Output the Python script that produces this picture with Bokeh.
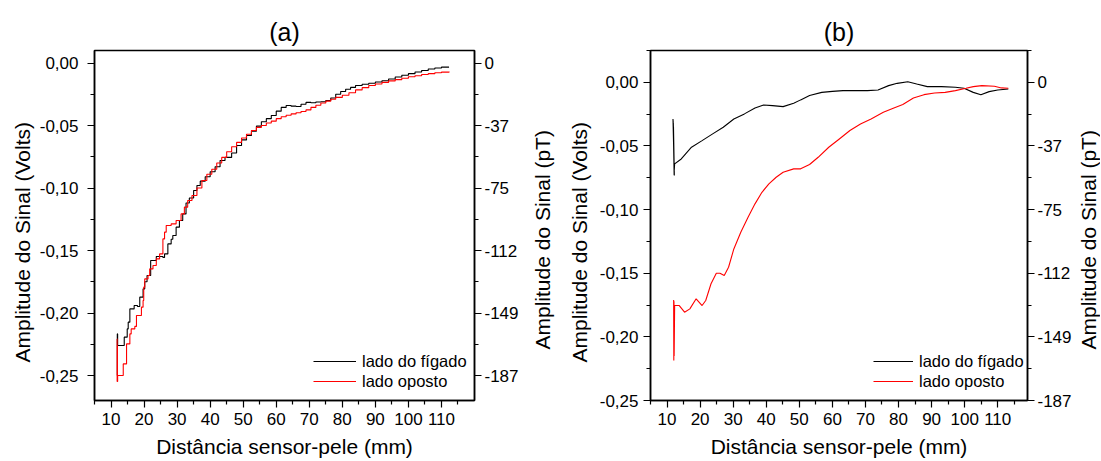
from bokeh.plotting import figure
from bokeh.layouts import row
from bokeh.models import LinearAxis, FixedTicker, Legend, LegendItem, Range1d, Title
from bokeh.embed import file_html
from bokeh.resources import INLINE

# ---------------- data ----------------
# panel (a) - staircase curves
a_liver_x = [11.85, 11.9, 12.0, 14.0, 14.9, 15.2, 15.7, 17.0, 18.0, 18.7, 19.7, 20.2, 20.9, 22.0, 23.7, 25.7,
             26.2, 27.2, 28.2, 28.7, 29.7, 30.7, 31.7, 32.7, 33.7, 35.0, 36.0, 37.0, 38.5, 40.0, 41.5, 43.0,
             44.5, 46.5, 48.0, 49.5, 51.0, 52.5, 54.0, 55.5, 57.0, 58.5, 60.0, 61.5, 63.0, 64.5, 66.0, 67.5,
             69.0, 70.5, 72.0, 73.5, 75.0, 76.5, 78.0, 79.5, 81.0, 82.5, 84.0, 86.0, 88.0, 90.0, 92.0, 94.0,
             96.0, 98.0, 100.0, 102.0, 104.0, 106.0, 108.0, 110.0, 112.3]
a_liver_v = [-0.250, -0.2167, -0.226, -0.2193, -0.2127, -0.2073, -0.1967, -0.194, -0.1948, -0.1873, -0.1807,
             -0.175, -0.170, -0.158, -0.1548, -0.1555, -0.1527, -0.1447, -0.141, -0.138, -0.1313, -0.126,
             -0.1207, -0.112, -0.108, -0.102, -0.098, -0.0945, -0.091, -0.087, -0.083, -0.078, -0.0755,
             -0.072, -0.066, -0.0615, -0.058, -0.0545, -0.0505, -0.047, -0.0445, -0.042, -0.0385, -0.0355,
             -0.034, -0.0345, -0.0348, -0.033, -0.0315, -0.0318, -0.0312, -0.031, -0.030, -0.028, -0.025,
             -0.0228, -0.021, -0.0195, -0.018, -0.017, -0.0162, -0.0152, -0.0142, -0.0128, -0.0112, -0.0098,
             -0.0085, -0.0072, -0.006, -0.0048, -0.004, -0.0033, -0.0033]

a_opp_x = [11.8, 11.85, 11.9, 11.95, 12.0, 13.7, 14.7, 15.7, 16.1, 17.2, 17.7, 19.2, 19.7, 19.9, 20.2, 21.2,
           21.7, 22.7, 23.7, 24.7, 25.7, 26.2, 26.7, 28.2, 29.7, 31.2, 32.2, 33.2, 34.5, 36.0, 37.5, 39.0,
           40.5, 42.0, 43.5, 45.0, 46.5, 48.0, 49.5, 51.0, 52.5, 54.0, 55.5, 57.0, 58.5, 60.0, 61.5, 63.0,
           64.5, 66.0, 67.5, 69.0, 70.5, 72.0, 73.5, 75.0, 76.5, 78.0, 80.0, 82.0, 84.0, 86.0, 88.0, 90.0,
           92.0, 94.0, 96.0, 98.0, 100.0, 102.0, 104.0, 106.0, 108.0, 110.0, 112.3]
a_opp_v = [-0.2207, -0.2547, -0.226, -0.2547, -0.250, -0.2407, -0.2247, -0.2167, -0.2127, -0.2107, -0.202,
           -0.1953, -0.190, -0.1793, -0.1727, -0.170, -0.1647, -0.162, -0.1567, -0.1527, -0.1407, -0.1353,
           -0.130, -0.1287, -0.126, -0.1207, -0.1153, -0.110, -0.106, -0.100, -0.094, -0.089, -0.085,
           -0.080, -0.0755, -0.071, -0.067, -0.0635, -0.060, -0.057, -0.054, -0.0515, -0.050, -0.048,
           -0.0465, -0.0445, -0.043, -0.0418, -0.0407, -0.0398, -0.0388, -0.0375, -0.0355, -0.0338, -0.032,
           -0.0305, -0.029, -0.0275, -0.0258, -0.0238, -0.0215, -0.0197, -0.018, -0.0168, -0.0155, -0.0143,
           -0.0133, -0.0122, -0.011, -0.0102, -0.0092, -0.0085, -0.0078, -0.0073, -0.0068]

# panel (b) - smooth curves
b_liver_x = [11.8, 12.2, 11.85, 12.15, 11.9, 12.2, 11.95, 12.15, 12.3, 14.3, 17.4, 20.6, 23.8, 27.0, 30.2,
             33.4, 36.6, 39.2, 41.9, 45.1, 48.3, 50.4, 53.1, 56.8, 60.0, 63.2, 67.4, 70.6, 73.8, 77.0, 79.6,
             82.8, 85.5, 88.7, 93.0, 97.2, 99.8, 102.6, 104.9, 107.4, 110.0, 113.2]
b_liver_v = [-0.0288, -0.0733, -0.030, -0.0728, -0.032, -0.0725, -0.035, -0.070, -0.0641, -0.0602, -0.051,
             -0.0458, -0.0405, -0.0353, -0.0288, -0.0248, -0.0201, -0.0178, -0.0183, -0.0191, -0.0165,
             -0.0138, -0.0104, -0.0079, -0.0071, -0.0065, -0.0065, -0.0065, -0.006, -0.0026, -0.0008,
             0.0005, -0.0013, -0.0034, -0.0034, -0.0039, -0.0047, -0.0079, -0.0097, -0.0073, -0.006, -0.0052]

b_opp_x = [12.0, 12.05, 12.1, 12.15, 12.3, 13.7, 15.3, 16.9, 18.8, 20.6, 21.7, 23.3, 24.9, 26.0, 27.3, 28.6,
           30.2, 32.3, 34.5, 36.6, 38.7, 40.8, 43.0, 45.1, 48.3, 50.4, 53.1, 55.7, 58.9, 62.1, 65.3, 68.5,
           71.7, 75.4, 78.6, 81.3, 84.5, 87.7, 90.9, 94.1, 97.2, 100.4, 102.6, 105.2, 109.0, 111.1, 113.2]
b_opp_v = [-0.171, -0.2186, -0.172, -0.215, -0.1754, -0.1754, -0.1806, -0.178, -0.1701, -0.1754, -0.1714,
           -0.1583, -0.150, -0.150, -0.1518, -0.1453, -0.1309, -0.1178, -0.106, -0.0955, -0.0864, -0.0798,
           -0.0746, -0.0707, -0.068, -0.068, -0.0646, -0.0589, -0.051, -0.0445, -0.0379, -0.0327, -0.0288,
           -0.0236, -0.0201, -0.0175, -0.0123, -0.0097, -0.0084, -0.0079, -0.0065, -0.0047, -0.0034,
           -0.0026, -0.0031, -0.0044, -0.0047]

series_names = ["lado do fígado", "lado oposto"]
titles = ["(a)", "(b)"]

x_ticks = [10, 20, 30, 40, 50, 60, 70, 80, 90, 100, 110]
x_minor = [5, 15, 25, 35, 45, 55, 65, 75, 85, 95, 105, 115]
y_ticks = [0.0, -0.05, -0.10, -0.15, -0.20, -0.25]
y_minor = [0.025, -0.025, -0.075, -0.125, -0.175, -0.225, -0.275]
y_labels_volts = ["0,00", "-0,05", "-0,10", "-0,15", "-0,20", "-0,25"]
y_labels_pt = ["0", "-37", "-75", "-112", "-149", "-187"]

x_label = "Distância sensor-pele (mm)"
y_label_left = "Amplitude do Sinal (Volts)"
y_label_right = "Amplitude do Sinal (pT)"

FONT = "Liberation Sans"
H = 461
MB_TOP, MB_BOTTOM = 50, 61


def vtitle(text, offset, standoff):
    # vertical axis title reading bottom-to-top
    return Title(text=text, align="left", offset=offset, standoff=standoff,
                 text_font=FONT, text_font_size="21px", text_font_style="normal",
                 text_color="black")


def style_axis(ax):
    ax.axis_line_color = "black"
    ax.axis_line_width = 1.5
    ax.major_tick_line_color = "black"
    ax.minor_tick_line_color = "black"
    ax.major_tick_line_width = 1.2
    ax.minor_tick_line_width = 1.2
    ax.major_tick_in = 0
    ax.major_tick_out = 7
    ax.minor_tick_in = 0
    ax.minor_tick_out = 4
    ax.major_label_text_font = FONT
    ax.major_label_text_font_size = "17px"
    ax.major_label_text_color = "black"
    ax.axis_label_text_font = FONT
    ax.axis_label_text_font_size = "21px"
    ax.axis_label_text_font_style = "normal"
    ax.axis_label_text_color = "black"


def make_panel(title, xr, yr, width, mb_left, mb_right, lx, ly, xo, yo, step, legend_x, glyph_w,
               left_std, left_label_std):
    p = figure(width=width, height=H, output_backend="svg", toolbar_location=None,
               x_range=Range1d(*xr), y_range=Range1d(*yr),
               min_border_left=mb_left, min_border_right=mb_right,
               min_border_top=MB_TOP, min_border_bottom=MB_BOTTOM)
    p.title.text = title
    p.title.align = "center"
    p.title.text_font = FONT
    p.title.text_font_size = "25px"
    p.title.text_font_style = "normal"
    p.title.text_color = "black"
    p.title.standoff = 10
    p.xgrid.visible = False
    p.ygrid.visible = False
    p.outline_line_color = "black"
    p.outline_line_width = 1.5
    p.outline_line_alpha = 1.0

    xa = p.xaxis[0]
    xa.ticker = FixedTicker(ticks=x_ticks, minor_ticks=x_minor)
    xa.axis_label = x_label
    style_axis(xa)
    xa.major_label_standoff = 5
    xa.axis_label_standoff = 7

    ya = p.yaxis[0]
    ya.ticker = FixedTicker(ticks=y_ticks, minor_ticks=y_minor)
    ya.major_label_overrides = {t: s for t, s in zip(y_ticks, y_labels_volts)}
    style_axis(ya)
    ya.major_label_standoff = left_std
    p.add_layout(vtitle(y_label_left, 38, left_label_std), "left")

    yr_ax = LinearAxis(ticker=FixedTicker(ticks=y_ticks, minor_ticks=y_minor))
    yr_ax.major_label_overrides = {t: s for t, s in zip(y_ticks, y_labels_pt)}
    style_axis(yr_ax)
    yr_ax.major_label_standoff = 3
    p.add_layout(yr_ax, "right")

    if step:
        r1 = p.step(lx, ly, mode="after", line_color="black", line_width=1.1)
        r2 = p.step(xo, yo, mode="after", line_color="#ff0000", line_width=1.1)
    else:
        r1 = p.line(lx, ly, line_color="black", line_width=1.1)
        r2 = p.line(xo, yo, line_color="#ff0000", line_width=1.1)

    leg = Legend(items=[LegendItem(label=series_names[0], renderers=[r1]),
                        LegendItem(label=series_names[1], renderers=[r2])],
                 location=(legend_x, 9))
    leg.border_line_alpha = 0
    leg.background_fill_alpha = 0
    leg.padding = 0
    leg.margin = 0
    leg.spacing = 0
    leg.glyph_width = glyph_w
    leg.glyph_height = 20
    leg.label_height = 20
    leg.label_standoff = 6
    leg.label_text_font = FONT
    leg.label_text_font_size = "16.5px"
    leg.label_text_color = "black"
    p.add_layout(leg, "center")
    return p


pa = make_panel(titles[0], (5, 120), (-0.27, 0.01), 521, 94, 44,
                a_liver_x, a_liver_v, a_opp_x, a_opp_v, step=True,
                legend_x=219, glyph_w=43, left_std=9, left_label_std=6)
pb = make_panel(titles[1], (5, 119), (-0.25, 0.025), 553, 129, 45,
                b_liver_x, b_liver_v, b_opp_x, b_opp_v, step=False,
                legend_x=223, glyph_w=40, left_std=5, left_label_std=12)
# right-hand title of panel (a) sits just outside panel (b)'s left label
pb.add_layout(vtitle(y_label_right, 51, 11), "left")

# narrow strip carrying the right-hand title of panel (b)
pc = figure(width=26, height=H, output_backend="svg", toolbar_location=None,
            x_axis_type=None, y_axis_type=None,
            min_border_left=25, min_border_right=0,
            min_border_top=MB_TOP, min_border_bottom=MB_BOTTOM)
pc.outline_line_color = None
pc.xgrid.visible = False
pc.ygrid.visible = False
pc.add_layout(vtitle(y_label_right, 51, 1), "left")

layout = row(pa, pb, pc, spacing=0)
open("out.html", "w").write(file_html(layout, INLINE))
